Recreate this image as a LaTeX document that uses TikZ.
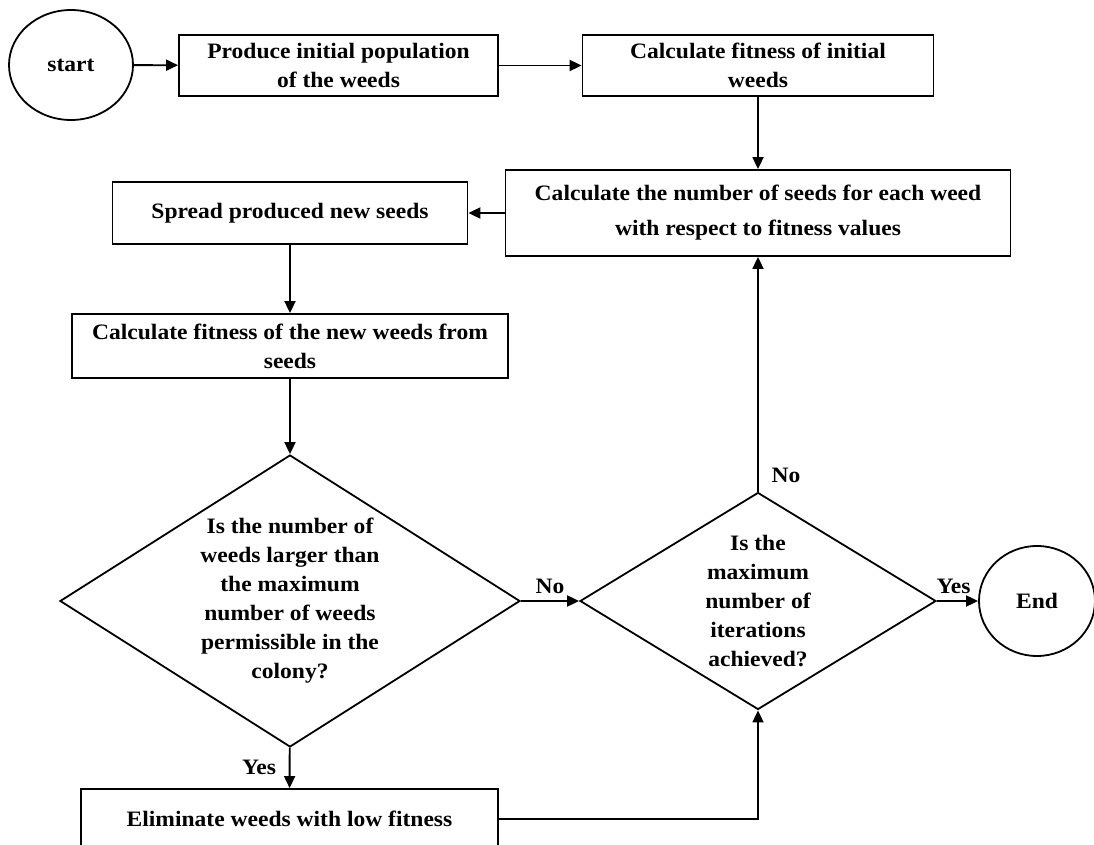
\documentclass[tikz,border=0pt]{standalone}
\usepackage{fontspec}
\setmainfont[FakeStretch=1.07]{Liberation Serif}
\usepackage{tikz}
\usetikzlibrary{shapes.geometric,arrows.meta}

\begin{document}
\begin{tikzpicture}[x=0.5pt,y=-0.5pt,
    every node/.style={font=\fontsize{11}{14.5}\selectfont\bfseries},
    box/.style={draw,rectangle,line width=0.9pt,align=center,inner sep=0pt},
    decision/.style={draw,diamond,line width=0.9pt,align=center,inner sep=0pt},
    terminal/.style={draw,ellipse,line width=0.9pt,inner sep=0pt},
    arr/.style={line width=0.9pt,-{Triangle[length=6pt,width=5.5pt]}}]
          \useasboundingbox (0,0) rectangle (1094,845);

          % Top row
          \node[terminal,minimum width=62pt,minimum height=55pt] (start) at (71,65) {start};
          \node[box,minimum width=159.5pt,minimum height=30.5pt] (produce) at (338.5,65.5) {Produce initial population\\of the weeds};
          \node[box,minimum width=175.5pt,minimum height=30.5pt] (fitinit) at (758,65.5) {Calculate fitness of initial\\weeds};

          % Seeds
          \node[box,minimum width=252.5pt,minimum height=43pt,font=\fontsize{11}{17.5}\selectfont\bfseries] (seednum) at (758,213) {Calculate the number of seeds for each weed\\with respect to fitness values};
          \node[box,minimum width=177.5pt,minimum height=31pt] (spread) at (290,213) {Spread produced new seeds};
          \node[box,minimum width=218pt,minimum height=32pt] (fitnew) at (290,346) {Calculate fitness of the new weeds from\\seeds};

          % Decisions
          \node[decision,aspect=1.575,minimum width=230pt,minimum height=146pt] (check) at (290,601) {Is the number of\\weeds larger than\\the maximum\\number of weeds\\permissible in the\\colony?};
          \node[decision,aspect=1.64,minimum width=178pt,minimum height=108.5pt] (iter) at (758,601) {Is the\\maximum\\number of\\iterations\\achieved?};
          \node[terminal,minimum width=58pt,minimum height=55pt] (finish) at (1037,601) {End};
          \node[box,minimum width=208.5pt,minimum height=30pt] (elim) at (289.5,819) {Eliminate weeds with low fitness};

          % Arrows
          \draw[arr] (start) -- (produce);
          \draw[arr] (produce) -- (fitinit);
          \draw[arr] (fitinit) -- (seednum);
          \draw[arr] (seednum) -- (spread);
          \draw[arr] (spread) -- (fitnew);
          \draw[arr] (fitnew) -- (check);
          \draw[arr] (check) -- (elim) node[midway,left,xshift=-3pt] {Yes};
          \draw[arr] (check.east) -- (iter.west) node[midway,above] {No};
          \draw[arr] (iter.north) -- (seednum.south) node[pos=0.07,right,xshift=3pt] {No};
          \draw[arr] (iter.east) -- (finish.west) node[midway,above,xshift=-2pt] {Yes};
          \draw[arr] (elim.east) -| (iter.south);
        \end{tikzpicture}
\end{document}
